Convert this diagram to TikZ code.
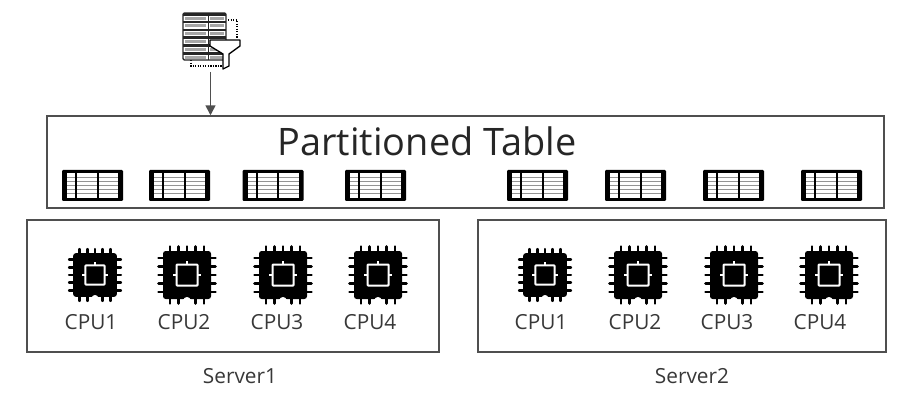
\documentclass[tikz,border=0pt]{standalone}
\usepackage{fontspec}
\setmainfont{Open Sans}
\usetikzlibrary{arrows.meta}
\definecolor{edge}{HTML}{4F4F4F}
\tikzset{
  x=0.75pt,y=-0.75pt,
  frame/.style={draw=edge,line width=1.1pt,fill=white},
  lab/.style={font=\fontsize{15.6pt}{18pt}\selectfont,text=black!78,inner sep=0pt},
  pics/tbl/.style={code={
    \fill[black,rounded corners=0.8pt] (-30.5,-15.5) rectangle (30.5,15.5);
    \fill[white] (-25.5,-12.5) rectangle (25.5,12.5);
    \foreach \yy in {-8,-4,0,4,8}{\fill[black!42] (-25.5,\yy-0.7) rectangle (25.5,\yy+0.7);}
    \fill[black] (-17.5,-12.5) rectangle (-15.5,12.5);
    \fill[black] (4,-12.5) rectangle (6,12.5);
  }},
  pics/chip/.style={code={
    \foreach \t in {-17,-8.5,0,8.5,17}{
      \draw[black,line width=1.9pt,line cap=round] (\t,-28.5) -- (\t,28.5);
      \draw[black,line width=1.9pt,line cap=round] (-28.5,\t) -- (28.5,\t);
    }
    \fill[black,rounded corners=2pt] (-24,-24) rectangle (24,24);
    \fill[white] (-4,31) -- (-4,25) .. controls (-2,21) and (2,21) .. (4,25) -- (4,31) -- cycle;
    \draw[white,line width=1.5pt,rounded corners=0.5pt] (-10.5,-10.5) rectangle (10.5,10.5);
    \draw[white,line width=1.2pt] (0,-10.5) -- (0,-14) (-10.5,0) -- (-14,0) (10.5,0) -- (14,0);
  }},
}
\begin{document}
\begin{tikzpicture}
\useasboundingbox (0,0) rectangle (910,406);
\fill[white] (0,0) rectangle (910,406);

% partitioned table
\node[frame,minimum width=837*0.75pt,minimum height=92*0.75pt,inner sep=0pt] (ptable) at (465.5,162) {};
\node[inner sep=0pt,font=\fontsize{28.4pt}{33pt}\selectfont,text=black!85] (ptitle) at (427,141) {Partitioned Table};
\foreach \n/\xx in {a/92.5,b/179.5,c/273,d/375.5,e/537.5,f/635.5,g/733.5,h/831.5}{
  \coordinate (t\n) at (\xx,185.5);
  \pic at (t\n) {tbl};
}

% servers
\node[frame,minimum width=412*0.75pt,minimum height=132*0.75pt,inner sep=0pt] (srv1) at (233,286) {};
\node[frame,minimum width=408*0.75pt,minimum height=132*0.75pt,inner sep=0pt] (srv2) at (682,286) {};
\node[lab] (s1) at (240,376) {Server1};
\node[lab] (s2) at (692,376) {Server2};

\foreach \n/\xx/\sc/\lx/\tx in {a/95/0.91/91/CPU1,b/187/1/184/CPU2,c/283/1/277/CPU3,d/378/1/370/CPU4,
                            e/545/0.91/541/CPU1,f/638/1/635/CPU2,g/734/1/727/CPU3,h/829/1/820/CPU4}{
  \coordinate (c\n) at (\xx,275);
  \pic[scale=\sc] at (c\n) {chip};
  \node[lab] (l\n) at (\lx,322) {\tx};
}

% filtered table icon
\draw[black,line width=0.9pt,densely dotted] (228,20) -- (237,20) -- (237,38);
\draw[black,line width=0.9pt,densely dotted] (191,60) -- (191,66) -- (222,66);
\fill[white,draw=black!85,line width=1pt,rounded corners=1pt] (183,13) rectangle (226,60);
\foreach \yy in {13,20.8,28.6,36.4,44.2,52}{
  \fill[black!85] (183,\yy) rectangle (226,\yy+2.6);
  \fill[black!35] (185,\yy+3.6) rectangle (206,\yy+6.6);
  \fill[black!35] (210,\yy+3.6) rectangle (224,\yy+6.6);
}
\fill[black!85] (207.5,13) rectangle (209,60);
\draw[black,line width=1pt,fill=white,line join=round] (210,40) -- (240,40) -- (240,46) -- (229,54) -- (229,66) -- (223,69) -- (223,54) -- (210,46) -- cycle;
\coordinate (icb) at (210.5,72);

% arrow
\draw[-{Triangle[length=7.5pt,width=7.5pt]},edge,line width=1.2pt] (icb) -- (ptable.north -| icb);
\end{tikzpicture}
\end{document}
